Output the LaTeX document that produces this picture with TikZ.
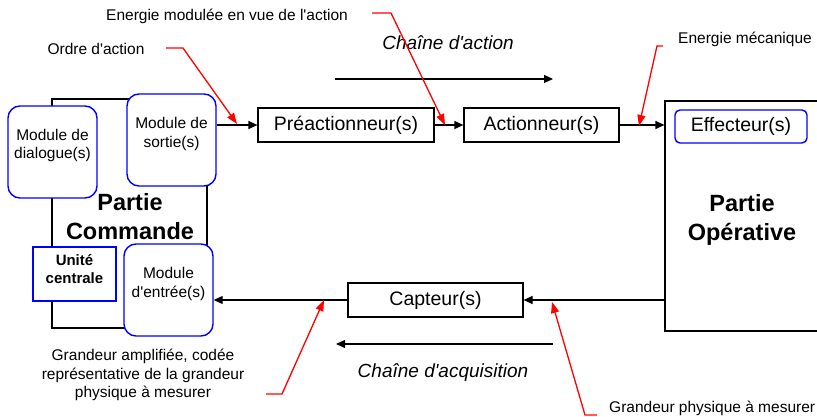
\documentclass[tikz,border=0pt]{standalone}
\usepackage{fontspec}
\setmainfont{Liberation Sans}
\newfontfamily\arial{Liberation Sans}
\usetikzlibrary{arrows.meta}
\definecolor{mblue}{RGB}{0,0,255}
\definecolor{mred}{RGB}{255,0,0}
\begin{document}
\begin{tikzpicture}[x=1pt,y=-1pt,
  blk/.style={draw=black,line width=1.2pt,fill=white,inner sep=0pt},
  rbox/.style={draw=mblue,line width=1.4pt,fill=white,rounded corners=12pt,inner sep=0pt,minimum width=89pt,minimum height=92pt},
  small/.style={font=\arial\fontsize{15.5}{18.5}\selectfont,align=center,inner sep=0pt},
  big/.style={font=\arial\fontsize{19.5}{22}\selectfont,inner sep=0pt},
  title/.style={font=\arial\fontsize{23.5}{29}\selectfont\bfseries,align=center,inner sep=0pt},
  chain/.style={font=\arial\fontsize{19}{22}\selectfont\itshape,inner sep=0pt},
  flow/.style={line width=1.2pt,-{Triangle[length=9pt,width=8pt]}},
  callout/.style={draw=mred,line width=1.3pt,-{Triangle[length=11pt,width=8pt]}}]
\useasboundingbox (0,0) rectangle (817,417);

% Partie Commande
\node[blk,minimum width=155pt,minimum height=229pt] (pc) at (129.5,213.5) {};
\node[title] (pctxt) at (130,217) {Partie\\Commande};
\node[rbox] (dial) at (52.5,152) {};
\node[small] (dialtxt) at (52.5,145.5) {Module de\\dialogue(s)};
\node[rbox] (sort) at (171.5,140) {};
\node[small] (sorttxt) at (171.5,134) {Module de\\sortie(s)};
\node[draw=mblue,line width=1.4pt,fill=white,minimum width=83pt,minimum height=54pt,inner sep=0pt] (uc) at (74.5,274) {};
\node[small,font=\arial\fontsize{15}{18}\selectfont\bfseries] (uctxt) at (74.5,269) {Unité\\centrale};
\node[rbox] (entr) at (168.5,290) {};
\node[small] (entrtxt) at (168.5,284) {Module\\d'entrée(s)};

% Partie Operative
\node[blk,minimum width=160pt,minimum height=230pt] (po) at (745,216) {};
\node[title] (potxt) at (742,219.5) {Partie\\Opérative};
\node[draw=mblue,line width=1.4pt,fill=white,rounded corners=5pt,minimum width=132pt,minimum height=33pt,inner sep=0pt,font=\arial\fontsize{19.5}{22}\selectfont] (eff) at (741,126.5) {Effecteur(s)};

% chain boxes
\node[blk,big,minimum width=176pt,minimum height=34pt] (pre) at (346,125) {Préactionneur(s)};
\node[blk,big,minimum width=155pt,minimum height=34pt] (act) at (541.5,125) {Actionneur(s)};
\node[blk,big,minimum width=175pt,minimum height=34pt] (cap) at (435.5,300) {Capteur(s)};

\draw[flow] (sort.east |- pre.west) -- (pre.west);
\draw[flow] (pre.east) -- (act.west);
\draw[flow] (act.east) -- (po.west |- act.east);
\draw[flow] (po.west |- cap.east) -- (cap.east);
\draw[flow] (cap.west) -- (entr.east |- cap.west);

% chain labels
\node[chain] (ca) at (448,43) {Chaîne d'action};
\coordinate (caS) at (335,79);
\coordinate (caE) at (553,79);
\draw[flow] (caS) -- (caE);
\node[chain] (cq) at (443,373) {Chaîne d'acquisition};
\coordinate (cqS) at (553,344);
\coordinate (cqE) at (336,344);
\draw[flow] (cqS) -- (cqE);

% callouts
\node[small] (l1) at (227,16) {Energie modulée en vue de l'action};
\coordinate (l1a) at (372,13); \coordinate (l1b) at (391,13); \coordinate (l1t) at (445,125);
\draw[callout] (l1a) -- (l1b) -- (l1t);

\node[small] (l2) at (96,49) {Ordre d'action};
\coordinate (l2a) at (166,48); \coordinate (l2b) at (183,48); \coordinate (l2t) at (237,124);
\draw[callout] (l2a) -- (l2b) -- (l2t);

\node[small] (l3) at (745,39) {Energie mécanique};
\coordinate (l3a) at (663,46); \coordinate (l3b) at (657,46); \coordinate (l3t) at (639,126);
\draw[callout] (l3a) -- (l3b) -- (l3t);

\node[small] (l4) at (143,375) {Grandeur amplifiée, codée\\représentative de la grandeur\\physique à mesurer};
\coordinate (l4a) at (266,394); \coordinate (l4b) at (282,394); \coordinate (l4t) at (324,300);
\draw[callout] (l4a) -- (l4b) -- (l4t);

\node[small,anchor=west] (l5) at (609,408) {Grandeur physique à mesurer};
\coordinate (l5a) at (597,415); \coordinate (l5b) at (585,415); \coordinate (l5t) at (552,302);
\draw[callout] (l5a) -- (l5b) -- (l5t);
\end{tikzpicture}
\end{document}
